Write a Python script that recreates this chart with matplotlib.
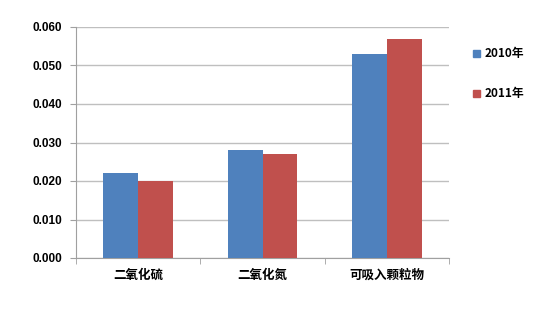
import matplotlib
matplotlib.use("Agg")
import matplotlib.pyplot as plt
import numpy as np

plt.rcParams['font.family'] = ['Noto Sans CJK SC', 'DejaVu Sans']

categories = ['二氧化硫', '二氧化氮', '可吸入颗粒物']
series_names = ['2010年', '2011年']
v2010 = [0.022, 0.028, 0.053]
v2011 = [0.020, 0.027, 0.057]
yticks = [0.0, 0.01, 0.02, 0.03, 0.04, 0.05, 0.06]
colors = ['#4F81BD', '#C0504D']

W, H = 547, 322
fig = plt.figure(figsize=(W/100, H/100), dpi=100)
ax = fig.add_axes([76/W, 1-258/H, (449-76)/W, (258-27)/H])

x = np.arange(len(categories))
bw = 0.28
ax.bar(x - bw/2, v2010, bw, color=colors[0], label=series_names[0], zorder=3)
ax.bar(x + bw/2, v2011, bw, color=colors[1], label=series_names[1], zorder=3)

ax.set_xlim(-0.5, len(categories)-0.5)
ax.set_ylim(0, 0.06)
ax.set_yticks(yticks)
ax.set_yticklabels([f'{t:.3f}' for t in yticks], fontsize=8.5, fontweight='bold', family=['Liberation Sans'])
ax.yaxis.grid(True, color='#BFBFBF', linewidth=1, zorder=0)
ax.set_xticks(x)
ax.set_xticklabels(categories, fontsize=9, fontweight='bold')
ax.tick_params(axis='x', length=0, pad=8)
ax.set_xticks(np.arange(-0.5, len(categories), 1), minor=True)
ax.tick_params(axis='x', which='minor', length=4, color='#A0A0A0')
ax.tick_params(axis='y', length=4, color='#A0A0A0', pad=6)
for s in ['top', 'right']:
    ax.spines[s].set_visible(False)
ax.spines['left'].set_color('#A0A0A0')
ax.spines['bottom'].set_color('#A0A0A0')

# legend
for i, (name, c) in enumerate(zip(series_names, colors)):
    yy = 1 - (53 + 40*i)/H
    fig.patches.append(plt.Rectangle((473/W, yy - 3.5/H), 7/W, 7/H, transform=fig.transFigure, color=c, figure=fig))
    fig.text(485/W, yy, name, fontsize=8.5, fontweight='bold', va='center', ha='left')

fig.savefig('out.png', dpi=100)
